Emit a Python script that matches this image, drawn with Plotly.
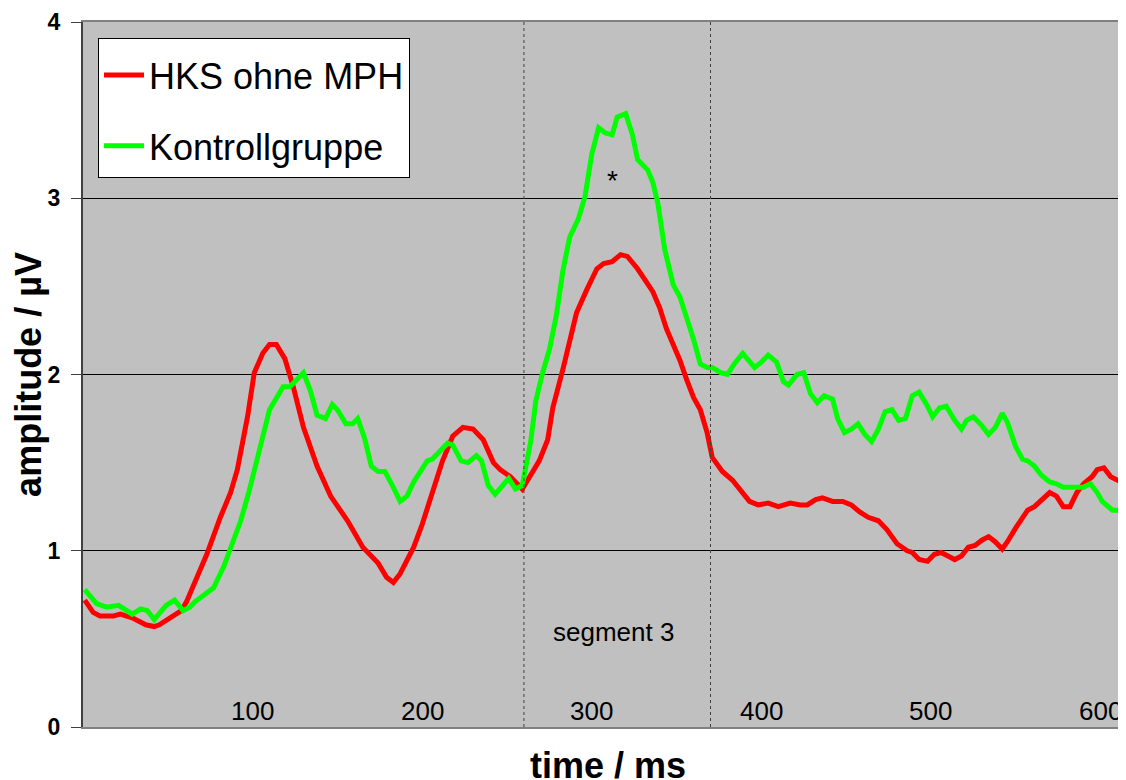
import plotly.graph_objects as go

# ---- data (time in ms, amplitude in µV) ----
t_hks = [1, 6, 10, 18, 22, 29, 37, 42, 45, 50, 54, 58, 61, 67, 73, 81, 87, 91, 97, 101,
         106, 110, 114, 119, 124, 130, 138, 146, 156, 165, 174, 179, 183, 187, 195, 200, 206, 212, 218, 224,
         230, 236, 242, 246, 252, 259, 264, 269, 274, 277, 283, 287, 291, 297, 303, 307, 312, 317, 321, 327,
         331, 336, 340, 344, 348, 352, 356, 360, 364, 368, 371, 377, 383, 389, 393, 398, 404, 410, 417, 423,
         427, 432, 436, 442, 448, 453, 458, 463, 469, 474, 480, 486, 489, 493, 498, 502, 506, 510, 514, 518,
         522, 526, 530, 534, 538, 542, 545, 550, 554, 557, 561, 565, 570, 574, 578, 582, 586, 590, 595, 598,
         602, 606, 610, 614, 618]
v_hks = [0.72, 0.65, 0.63, 0.63, 0.64, 0.62, 0.58, 0.57, 0.58, 0.61, 0.63, 0.66, 0.71, 0.85, 0.98, 1.19, 1.33, 1.46, 1.76, 2.01,
         2.12, 2.17, 2.17, 2.09, 1.93, 1.70, 1.48, 1.31, 1.17, 1.02, 0.93, 0.85, 0.82, 0.87, 1.02, 1.15, 1.33, 1.51, 1.65, 1.70,
         1.69, 1.63, 1.50, 1.46, 1.42, 1.35, 1.43, 1.51, 1.63, 1.81, 2.03, 2.18, 2.35, 2.48, 2.60, 2.63, 2.64, 2.68, 2.67, 2.60,
         2.54, 2.47, 2.38, 2.26, 2.17, 2.08, 1.97, 1.87, 1.80, 1.67, 1.53, 1.45, 1.40, 1.33, 1.28, 1.26, 1.27, 1.25, 1.27, 1.26,
         1.26, 1.29, 1.30, 1.28, 1.28, 1.26, 1.22, 1.19, 1.17, 1.12, 1.04, 1.00, 0.99, 0.95, 0.94, 0.98, 0.99, 0.97, 0.95, 0.97,
         1.02, 1.03, 1.06, 1.08, 1.05, 1.01, 1.05, 1.13, 1.19, 1.23, 1.25, 1.29, 1.33, 1.31, 1.25, 1.25, 1.33, 1.38, 1.42, 1.46,
         1.47, 1.42, 1.40, 1.42, 1.50]

t_kontroll = [1, 6, 8, 14, 21, 29, 34, 38, 42, 49, 54, 59, 63, 66, 71, 77, 83, 87, 93, 98,
              104, 110, 118, 122, 126, 130, 134, 138, 143, 147, 150, 155, 159, 162, 166, 170, 174, 178, 183, 187,
              191, 195, 199, 203, 206, 210, 215, 218, 223, 227, 232, 235, 239, 243, 248, 251, 255, 259, 264, 267,
              271, 275, 279, 283, 287, 292, 296, 300, 304, 308, 312, 315, 320, 324, 327, 333, 336, 339, 343, 348,
              352, 356, 360, 364, 368, 371, 376, 380, 384, 389, 392, 396, 400, 404, 409, 413, 416, 421, 425, 429,
              433, 437, 442, 445, 449, 453, 457, 461, 465, 469, 473, 477, 481, 485, 489, 493, 498, 501, 505, 509,
              514, 518, 521, 525, 530, 534, 538, 542, 545, 550, 554, 557, 561, 565, 570, 574, 578, 582, 587, 590,
              594, 598, 601, 607, 611, 615, 618]
v_kontroll = [0.78, 0.72, 0.70, 0.68, 0.69, 0.64, 0.67, 0.66, 0.61, 0.69, 0.72, 0.66, 0.68, 0.71, 0.75, 0.79, 0.91, 1.02, 1.17, 1.34,
              1.57, 1.80, 1.93, 1.93, 1.97, 2.01, 1.91, 1.77, 1.75, 1.83, 1.80, 1.72, 1.72, 1.75, 1.64, 1.48, 1.45, 1.45, 1.36, 1.28,
              1.31, 1.39, 1.45, 1.51, 1.52, 1.56, 1.61, 1.60, 1.51, 1.50, 1.54, 1.51, 1.37, 1.32, 1.38, 1.41, 1.35, 1.37, 1.62, 1.85,
              2.01, 2.14, 2.33, 2.59, 2.78, 2.88, 3.01, 3.25, 3.40, 3.37, 3.36, 3.46, 3.48, 3.36, 3.22, 3.16, 3.09, 2.97, 2.71, 2.51,
              2.44, 2.33, 2.20, 2.06, 2.04, 2.04, 2.01, 2.00, 2.06, 2.12, 2.09, 2.04, 2.07, 2.11, 2.07, 1.96, 1.94, 2.00, 2.01, 1.89,
              1.84, 1.88, 1.86, 1.75, 1.67, 1.69, 1.72, 1.66, 1.62, 1.69, 1.79, 1.80, 1.74, 1.75, 1.88, 1.90, 1.82, 1.76, 1.81, 1.82,
              1.74, 1.69, 1.74, 1.76, 1.71, 1.66, 1.70, 1.78, 1.73, 1.59, 1.52, 1.51, 1.48, 1.43, 1.39, 1.38, 1.36, 1.36, 1.36, 1.36,
              1.38, 1.33, 1.28, 1.23, 1.23, 1.23, 1.23]

series_names = ["HKS ohne MPH", "Kontrollgruppe"]
series_colors = ["#FF0000", "#00FF00"]

x_ticks = [100, 200, 300, 400, 500, 600]
y_ticks = [0, 1, 2, 3, 4]
segment_bounds = [260, 370]
segment_label = "segment 3"
segment_label_pos = (313, 0.54)
star_pos = (312, 3.10)

FONT = "Liberation Sans, Arial, sans-serif"

fig = go.Figure()
for name, color, tx, vy, grp in [
    (series_names[0], series_colors[0], t_hks, v_hks, "a"),
    (series_names[1], series_colors[1], t_kontroll, v_kontroll, "b"),
]:
    fig.add_trace(go.Scatter(x=tx, y=vy, mode="lines", name=name, legendgroup=grp,
                             line=dict(color=color, width=5)))

for b in segment_bounds:
    fig.add_shape(type="line", xref="x", yref="paper", x0=b, x1=b, y0=0, y1=1,
                  line=dict(color="#404040", width=1, dash="dot"), layer="above")

# x tick labels drawn inside the plot area, just above the axis
for v in x_ticks:
    fig.add_annotation(x=v, y=0, xref="x", yref="paper", text=str(v), showarrow=False,
                       yanchor="bottom", yshift=-1,
                       font=dict(family=FONT, size=26, color="black"))

fig.add_annotation(x=segment_label_pos[0], y=segment_label_pos[1], text=segment_label,
                   showarrow=False, font=dict(family=FONT, size=26, color="black"))
fig.add_annotation(x=star_pos[0], y=star_pos[1], text="*", showarrow=False,
                   font=dict(family=FONT, size=28, color="black"))

# x axis title
fig.add_annotation(x=0.503, y=0, xref="paper", yref="paper", text="<b>time / ms</b>",
                   showarrow=False, yanchor="top", yshift=-16,
                   font=dict(family=FONT, size=36, color="black"))

fig.update_layout(
    width=1118, height=772,
    margin=dict(l=75, r=0, t=14, b=53),
    paper_bgcolor="white",
    plot_bgcolor="#C0C0C0",
    font=dict(family=FONT, color="black"),
    showlegend=True,
    legend=dict(x=0.0144, y=0.978, xanchor="left", yanchor="top",
                bgcolor="white", bordercolor="black", borderwidth=1,
                font=dict(family=FONT, size=36, color="black"),
                title=dict(text=" ", font=dict(size=5)),
                traceorder="grouped", tracegroupgap=21, itemwidth=40),
    xaxis=dict(range=[0, 615], showticklabels=False, ticks="", showgrid=False, zeroline=False,
               showline=True, linecolor="#808080", linewidth=2, mirror=True, automargin=False),
    yaxis=dict(range=[0, 4], tickvals=y_ticks, ticktext=[f"<b>{v}</b>" for v in y_ticks],
               ticks="outside", ticklen=10, tickcolor="#404040", tickwidth=1,
               ticklabelstandoff=6,
               showgrid=True, gridcolor="black", gridwidth=1, zeroline=False,
               showline=True, linecolor="#404040", linewidth=2, automargin=False,
               tickfont=dict(family=FONT, size=23, color="black"),
               title=dict(text="<b>amplitude / µV</b>", font=dict(family=FONT, size=36, color="black"))),
)

fig.write_html("out.html")
